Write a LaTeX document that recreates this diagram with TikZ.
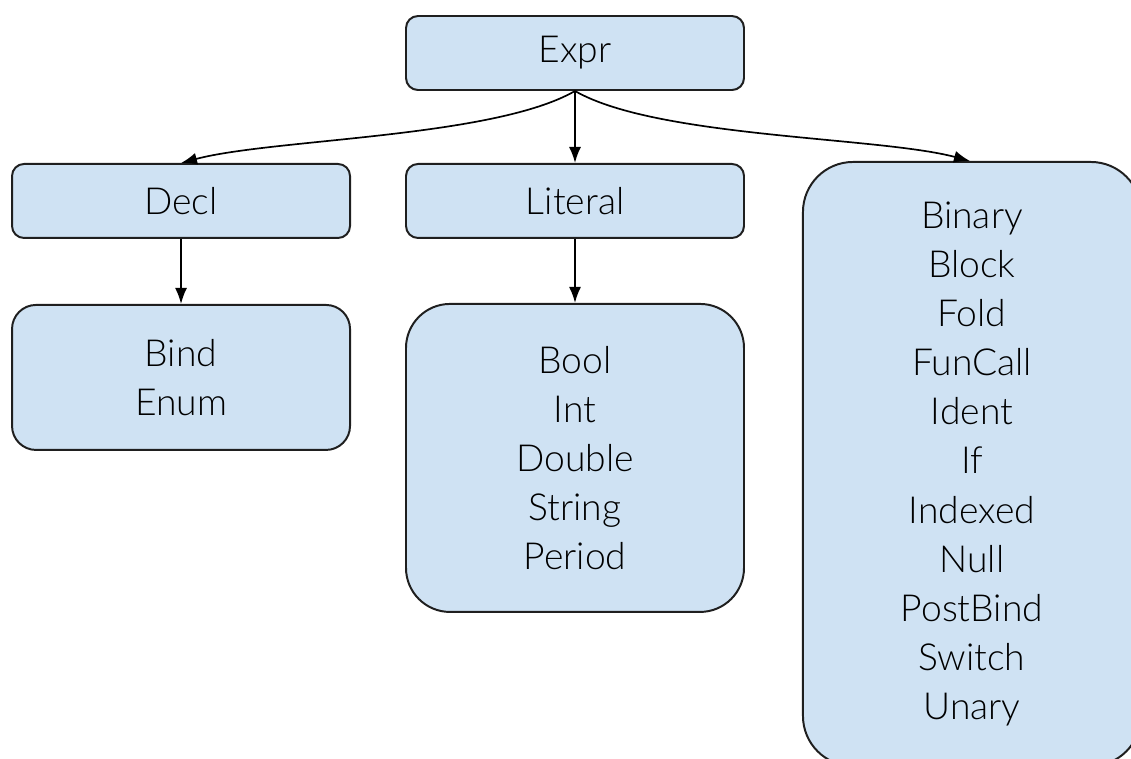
\documentclass[tikz,border=0pt]{standalone}
\usepackage{fontspec}
\setmainfont{Lato Light}
\usetikzlibrary{arrows.meta, positioning}
\definecolor{mfill}{HTML}{CFE2F3}
\definecolor{mline}{HTML}{1F1F1F}
\tikzstyle{kind} = [rectangle, rounded corners=0.3cm, minimum width=8.45cm, minimum height=1.85cm, inner sep=0pt, text centered, draw=mline, line width=1.4pt, fill=mfill]
\tikzstyle{group} = [kind, align=center]
\tikzstyle{link} = [line width=1.2pt, ->, >={Latex[length=0.4cm, width=0.3cm]}]

\begin{document}
\begin{tikzpicture}[font=\fontsize{26.5}{34.9}\selectfont, node distance=1.8cm]
  \useasboundingbox (0,0) rectangle (28.275,-18.95);
  \clip (0,0) rectangle (28.275,-18.95);
  \node (expr) [kind] at (14.375,-1.325) {Expr};
  \node (literal) [kind, below=of expr] {Literal};
  \node (decl) [kind, left=1.35cm of literal] {Decl};
  \node (others) [group, rounded corners=1.25cm, minimum height=15.1cm, anchor=north west] at ([xshift=1.425cm, yshift=0.05cm]literal.north east) {Binary\\Block\\Fold\\FunCall\\Ident\\If\\Indexed\\Null\\PostBind\\Switch\\Unary};
  \node (declsub) [group, rounded corners=0.6cm, minimum height=3.625cm, below=1.625cm of decl] {Bind\\Enum};
  \node (litsub) [group, rounded corners=1.1cm, minimum height=7.7cm, below=1.6cm of literal] {Bool\\Int\\Double\\String\\Period};
  \draw [link] (expr) -- (literal);
  \draw [link] (expr.south) to[out=-150, in=15, looseness=0.6] (decl.north);
  \draw [link] (expr.south) to[out=-30, in=165, looseness=0.6] ([xshift=-0.05cm]others.north);
  \draw [link] (decl) -- (declsub);
  \draw [link] (literal) -- (litsub);
\end{tikzpicture}
\end{document}
